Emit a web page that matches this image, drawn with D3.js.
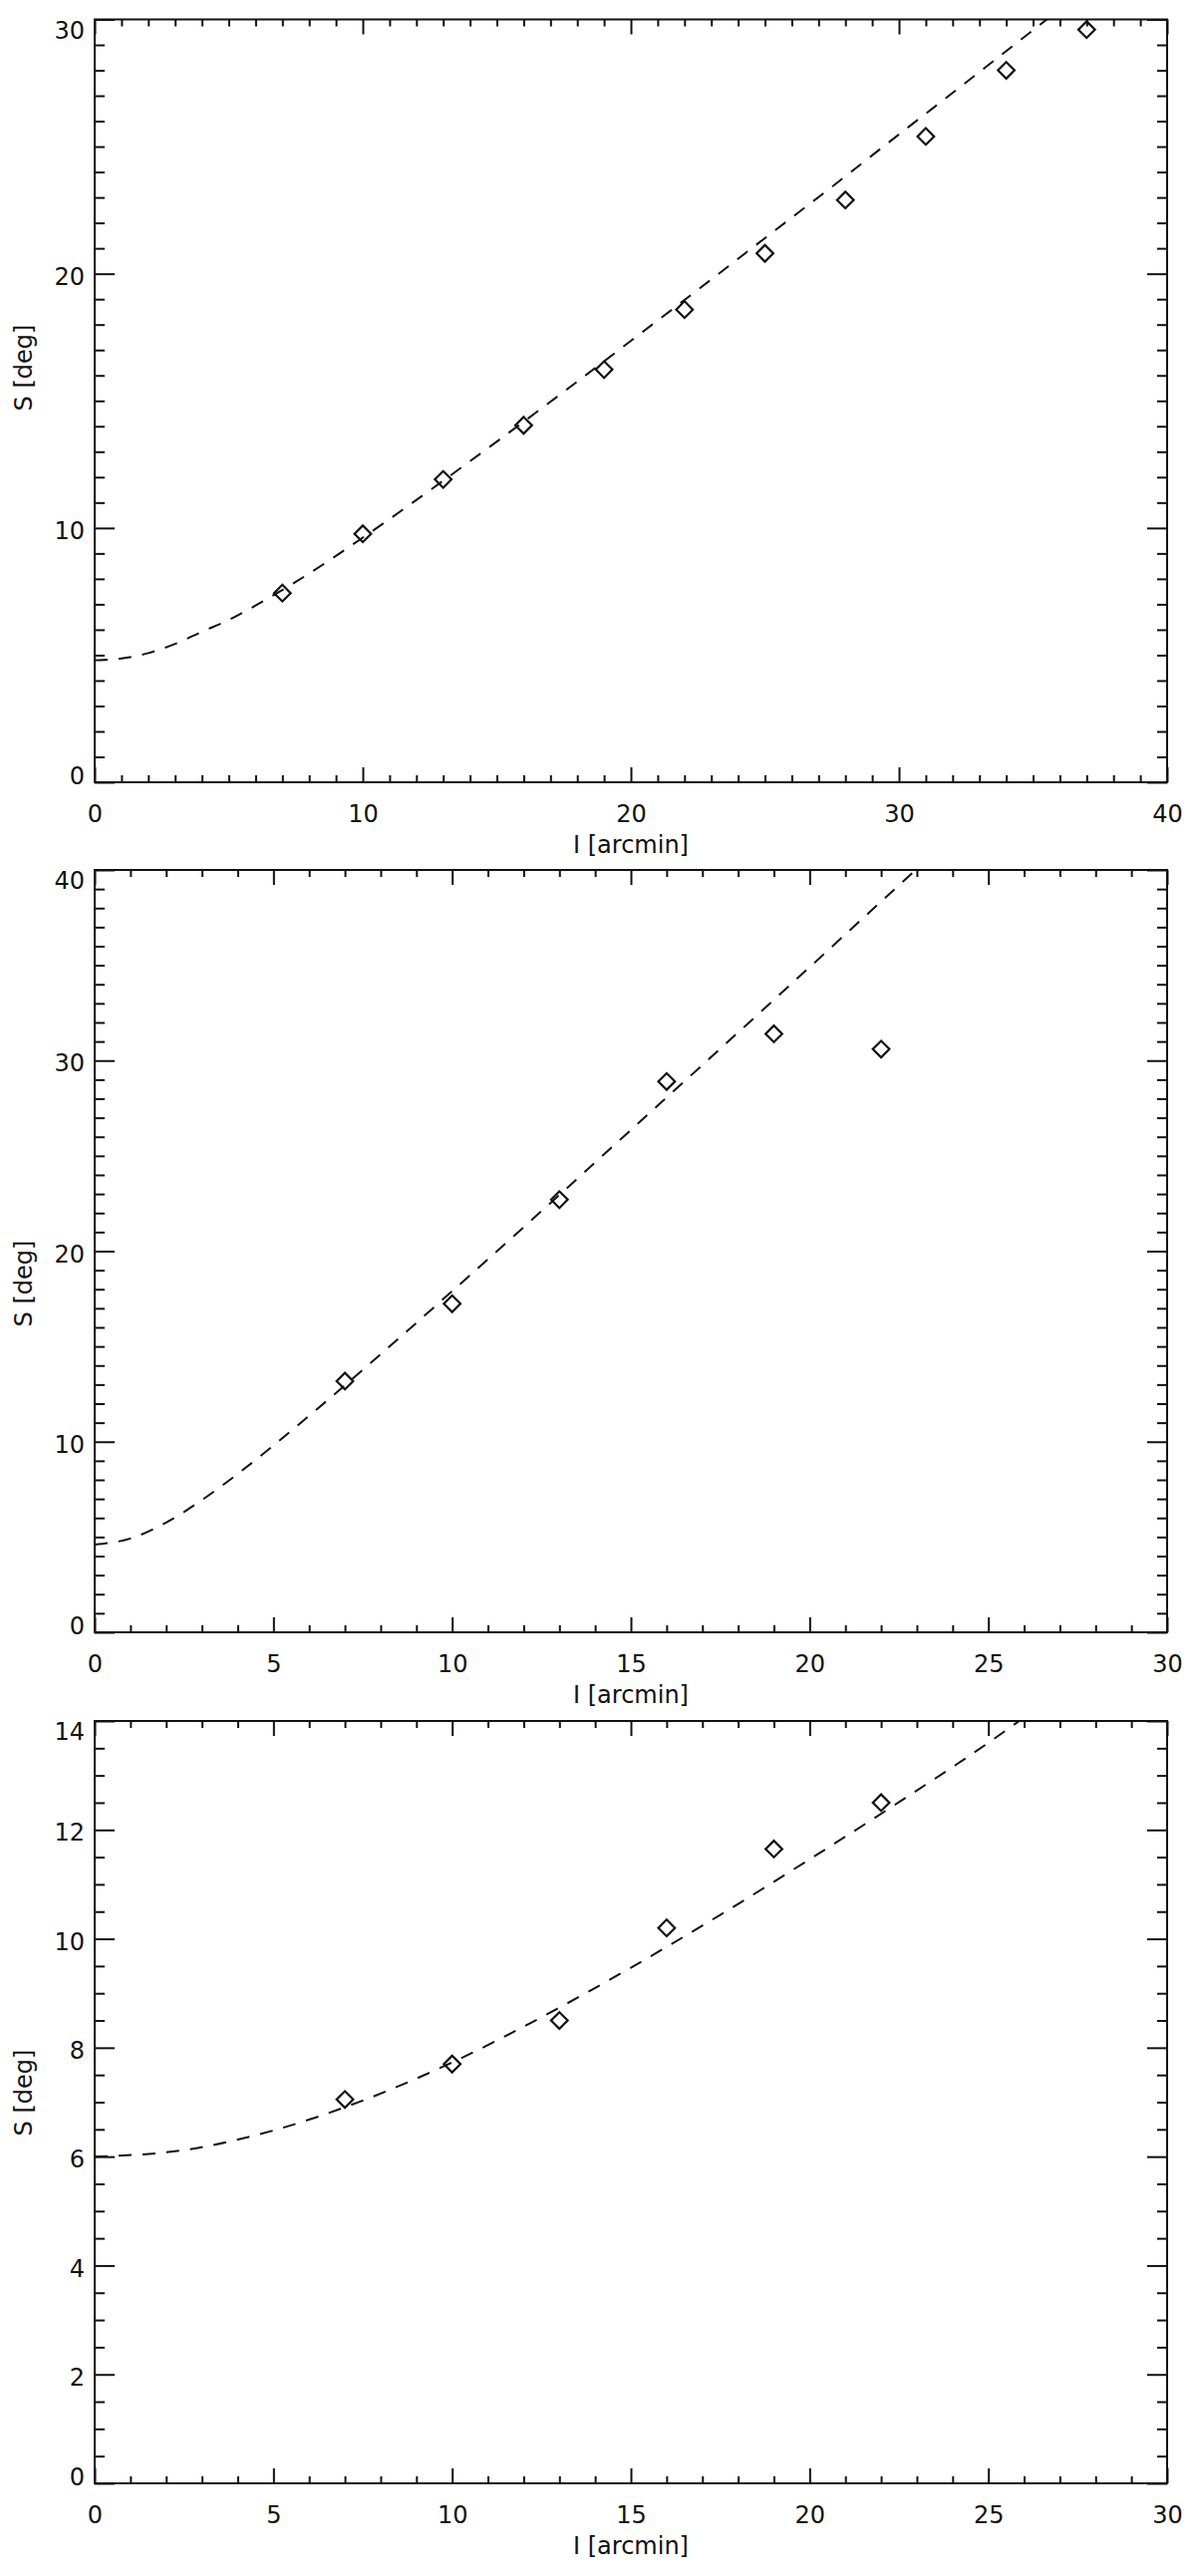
<!DOCTYPE html>
<html>
<head>
<meta charset="utf-8">
<script src="https://cdn.jsdelivr.net/npm/d3@7"></script>
<style>
  body { margin: 0; background: #fff; }
  svg { display: block; }
  text { font-family: "DejaVu Sans", sans-serif; fill: #111; }
</style>
</head>
<body>
<svg id="chart" width="1200" height="2585"></svg>
<script>
// panel 1 : diamonds and dashed fit
var p1L = [7, 10, 13, 16, 19, 22, 25, 28, 31, 34, 37];
var p1S = [7.44, 9.77, 11.91, 14.04, 16.23, 18.59, 20.8, 22.9, 25.4, 28.0, 29.6];
var p1FitL = [0, 1, 2, 3, 4, 5, 6, 7.5, 10, 12.5, 15, 17.5, 20, 22.5, 25, 27.5, 30, 32.5, 35, 36];
var p1FitS = [4.8, 4.87, 5.08, 5.44, 5.92, 6.38, 6.95, 7.88, 9.62, 11.48, 13.4, 15.36, 17.36, 19.37, 21.4, 23.42, 25.48, 27.52, 29.58, 30.4];
var p1XTicks = [0, 10, 20, 30, 40];
var p1YTicks = [0, 10, 20, 30];

// panel 2
var p2L = [7, 10, 13, 16, 19, 22];
var p2S = [13.18, 17.24, 22.7, 28.9, 31.4, 30.6];
var p2FitL = [0, 1, 2, 3, 4, 5, 6, 7.5, 10, 12.5, 15, 17.5, 20, 22.5, 23.5];
var p2FitS = [4.6, 4.92, 5.76, 6.94, 8.31, 9.8, 11.36, 13.77, 17.9, 22.1, 26.36, 30.62, 34.9, 39.2, 40.9];
var p2XTicks = [0, 5, 10, 15, 20, 25, 30];
var p2YTicks = [0, 10, 20, 30, 40];

// panel 3
var p3L = [7, 10, 13, 16, 19, 22];
var p3S = [7.05, 7.7, 8.5, 10.2, 11.65, 12.5];
var p3FitL = [0, 2.5, 5, 7.5, 10, 12.5, 15, 17.5, 20, 22.5, 25, 26.5];
var p3FitS = [6.0, 6.12, 6.48, 7.03, 7.73, 8.56, 9.47, 10.44, 11.46, 12.51, 13.6, 14.3];
var p3XTicks = [0, 5, 10, 15, 20, 25, 30];
var p3YTicks = [0, 2, 4, 6, 8, 10, 12, 14];

var xTitle = "I [arcmin]";
var yTitle = "S [deg]";

var left = 95, right = 1171;

var panels = [
  { top: 19.5, bottom: 785, L: p1L, S: p1S, fitL: p1FitL, fitS: p1FitS,
    xTicks: p1XTicks, yTicks: p1YTicks, xMinor: 1, yMinor: 1, yTitleY: 369 },
  { top: 873, bottom: 1638, L: p2L, S: p2S, fitL: p2FitL, fitS: p2FitS,
    xTicks: p2XTicks, yTicks: p2YTicks, xMinor: 1, yMinor: 1, yTitleY: 1288 },
  { top: 1727, bottom: 2492, L: p3L, S: p3S, fitL: p3FitL, fitS: p3FitS,
    xTicks: p3XTicks, yTicks: p3YTicks, xMinor: 1, yMinor: 0.5, yTitleY: 2100 }
];

var svg = d3.select("#chart");
svg.append("rect").attr("width", 1200).attr("height", 2585).attr("fill", "#fff");

panels.forEach(function(p, i) {
  var xd = [p.xTicks[0], p.xTicks[p.xTicks.length - 1]];
  var yd = [p.yTicks[0], p.yTicks[p.yTicks.length - 1]];
  var x = d3.scaleLinear().domain(xd).range([left, right]);
  var y = d3.scaleLinear().domain(yd).range([p.bottom, p.top]);
  var g = svg.append("g");

  var xMinorTicks = d3.range(xd[0], xd[1] + 1e-9, p.xMinor).filter(v => p.xTicks.indexOf(v) < 0);
  var yMinorTicks = d3.range(yd[0], yd[1] + 1e-9, p.yMinor).filter(v => p.yTicks.indexOf(v) < 0);

  function axis(gen, tr, values, size, labels) {
    var a = g.append("g").attr("transform", tr)
      .call(gen.tickValues(values).tickSize(size).tickPadding(labels ? labels : 3)
        .tickFormat(labels ? d3.format("d") : ""));
    a.select(".domain").remove();
    a.selectAll("line").attr("stroke", "#111").attr("stroke-width", 2);
    a.selectAll("text").attr("font-size", 24).attr("fill", "#111");
    return a;
  }

  // minor ticks
  axis(d3.axisBottom(x), `translate(0,${p.bottom})`, xMinorTicks, -7);
  axis(d3.axisTop(x), `translate(0,${p.top})`, xMinorTicks, -7);
  axis(d3.axisLeft(y), `translate(${left},0)`, yMinorTicks, -10);
  axis(d3.axisRight(y), `translate(${right},0)`, yMinorTicks, -10);

  // major ticks
  axis(d3.axisBottom(x), `translate(0,${p.bottom})`, p.xTicks, -15, 22.5);
  axis(d3.axisTop(x), `translate(0,${p.top})`, p.xTicks, -15);
  var ya = axis(d3.axisLeft(y), `translate(${left},0)`, p.yTicks, -20, 10);
  axis(d3.axisRight(y), `translate(${right},0)`, p.yTicks, -20);

  // keep the end labels inside the box, like the original
  var n = p.yTicks.length;
  ya.selectAll("text").attr("dy", function(d, j) {
    if (j === 0) return "1.7px";
    if (j === n - 1) return "18.7px";
    return "10.7px";
  });

  // box
  g.append("rect")
    .attr("x", left).attr("y", p.top)
    .attr("width", right - left).attr("height", p.bottom - p.top)
    .attr("fill", "none").attr("stroke", "#111").attr("stroke-width", 2);

  // clip
  var clipId = "clip" + i;
  svg.append("clipPath").attr("id", clipId).append("rect")
    .attr("x", left).attr("y", p.top)
    .attr("width", right - left).attr("height", p.bottom - p.top);

  var fit = p.fitL.map((v, j) => [v, p.fitS[j]]);
  var line = d3.line().x(d => x(d[0])).y(d => y(d[1])).curve(d3.curveMonotoneX);
  g.append("path")
    .attr("clip-path", `url(#${clipId})`)
    .attr("d", line(fit))
    .attr("fill", "none")
    .attr("stroke", "#111")
    .attr("stroke-width", 2)
    .attr("stroke-dasharray", "13,11");

  var pts = p.L.map((v, j) => [v, p.S[j]]);
  var sym = d3.symbol().type(d3.symbolSquare).size(139);
  g.selectAll("path.pt")
    .data(pts)
    .enter()
    .append("path")
    .attr("class", "pt")
    .attr("d", sym)
    .attr("transform", d => `translate(${x(d[0])},${y(d[1])}) rotate(45)`)
    .attr("fill", "none")
    .attr("stroke", "#111")
    .attr("stroke-width", 2.2);

  // titles
  g.append("text")
    .attr("x", (left + right) / 2)
    .attr("y", p.bottom + 71)
    .attr("text-anchor", "middle")
    .attr("font-size", 24)
    .text(xTitle);

  g.append("text")
    .attr("transform", `translate(32,${p.yTitleY}) rotate(-90)`)
    .attr("text-anchor", "middle")
    .attr("font-size", 24)
    .text(yTitle);
});
</script>
</body>
</html>
